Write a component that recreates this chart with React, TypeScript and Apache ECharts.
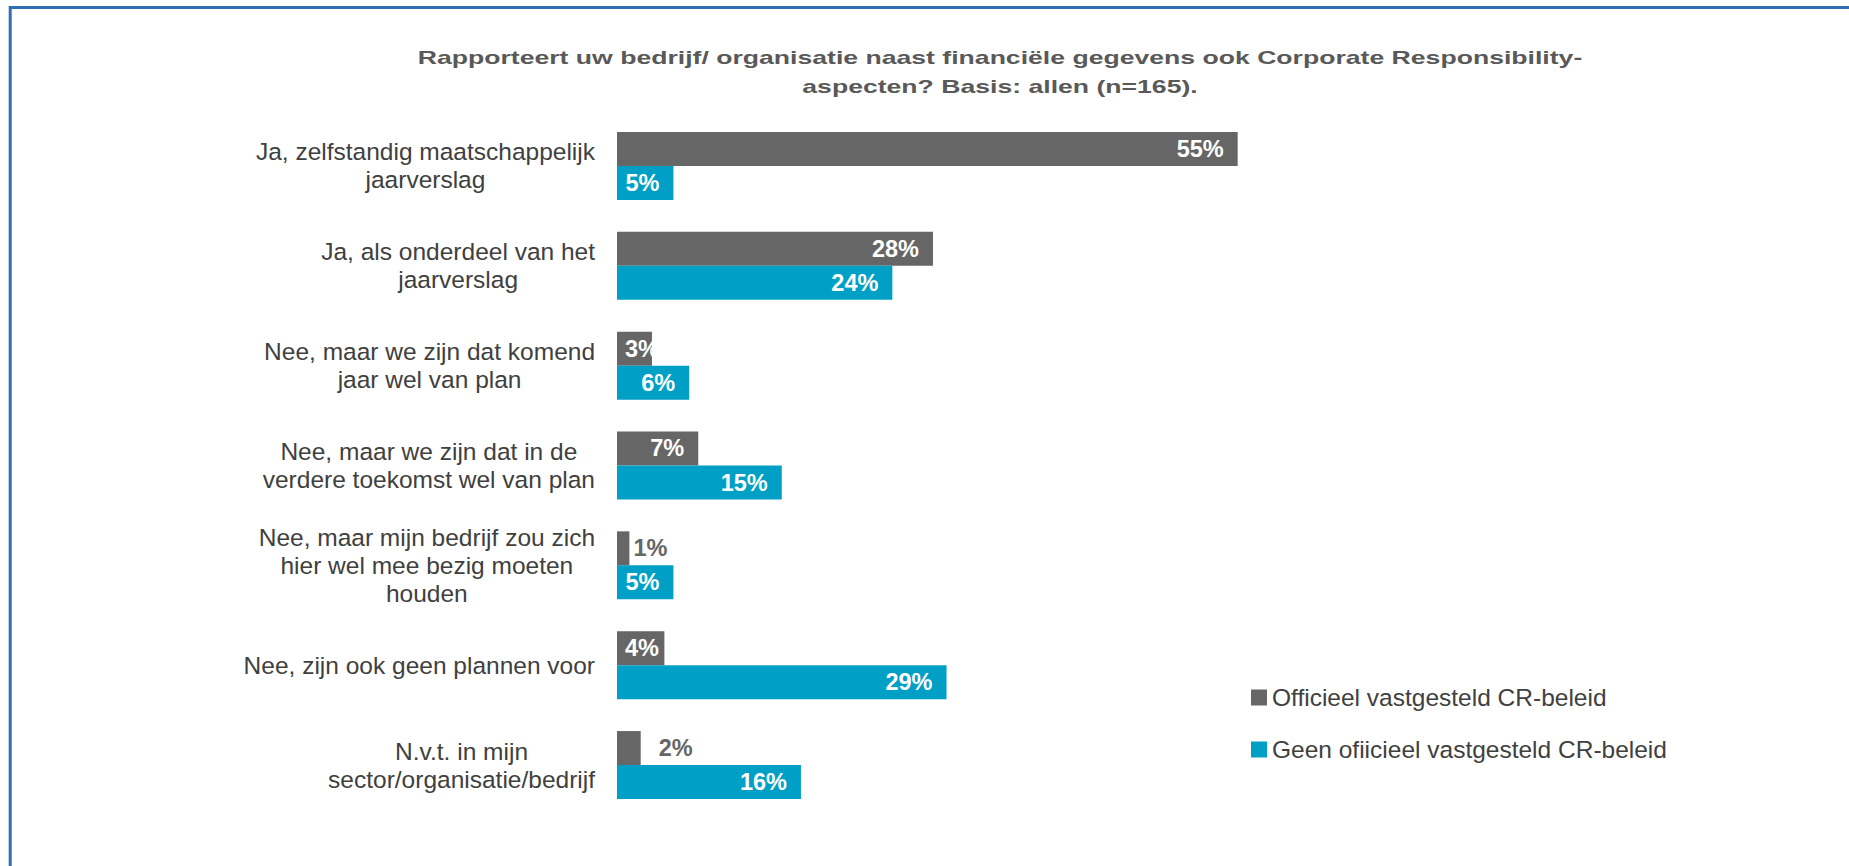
import React, { useEffect, useRef } from "react";
import * as echarts from "echarts";

const titleLines = [
  "Rapporteert uw bedrijf/ organisatie naast financiële gegevens ook Corporate Responsibility-",
  "aspecten? Basis: allen (n=165).",
];

const categories = [
  "Ja, zelfstandig maatschappelijk\njaarverslag",
  "Ja, als onderdeel van het\njaarverslag",
  "Nee, maar we zijn dat komend\njaar wel van plan",
  "Nee, maar we zijn dat in de\nverdere toekomst wel van plan",
  "Nee, maar mijn bedrijf zou zich\nhier wel mee bezig moeten\nhouden",
  "Nee, zijn ook geen plannen voor",
  "N.v.t. in mijn\nsector/organisatie/bedrijf",
];

const seriesNames = ["Officieel vastgesteld CR-beleid", "Geen ofiicieel vastgesteld CR-beleid"];
const officieel = [55, 28, 3.1, 7.2, 1.1, 4.2, 2.1];
const geenOfficieel = [5, 24.4, 6.4, 14.6, 5, 29.2, 16.3];

const GRAY = "#666666";
const BLUE = "#00A0C6";
const FONT = "'Liberation Sans', Arial, sans-serif";

function buildData(values: number[]) {
  return values.map((v) => {
    let label: any;
    if (v < 1.5) {
      label = { position: "right", distance: 4, color: GRAY };
    } else if (v < 2.5) {
      label = { position: "right", distance: 18, color: GRAY };
    } else if (v < 4.5) {
      label = { position: "insideLeft", distance: 8 };
    }
    return label ? { value: v, label } : { value: v };
  });
}

export default function App() {
  const ref = useRef<HTMLDivElement>(null);
  useEffect(() => {
    if (!ref.current) return;
    const chart = echarts.init(ref.current, undefined, { renderer: "svg" });
    const labelBase = {
      show: true,
      position: "insideRight",
      distance: 14,
      color: "#ffffff",
      fontFamily: FONT,
      fontWeight: "bold",
      fontSize: 23.5,
      formatter: (p: any) => `${Math.round(p.value)}%`,
    };
    chart.setOption({
      animation: false,
      backgroundColor: "#ffffff",
      textStyle: { fontFamily: FONT },
      graphic: [
        {
          type: "line",
          shape: { x1: 9, y1: 7.5, x2: 1849, y2: 7.5 },
          style: { stroke: "#2F6EB5", lineWidth: 3 },
        },
        {
          type: "line",
          shape: { x1: 10.2, y1: 6, x2: 10.2, y2: 866 },
          style: { stroke: "#2F6EB5", lineWidth: 3 },
        },
        {
          type: "text",
          x: 1000,
          y: 43,
          scaleX: 1.4,
          style: {
            text: titleLines.join("\n"),
            textAlign: "center",
            textVerticalAlign: "top",
            fontFamily: FONT,
            fontWeight: "bold",
            fontSize: 19,
            lineHeight: 29,
            fill: "#595959",
          },
        },
      ],
      legend: {
        orient: "vertical",
        left: 1251,
        top: 685,
        padding: 0,
        itemWidth: 16,
        itemHeight: 16,
        itemGap: 27,
        icon: "rect",
        textStyle: { fontFamily: FONT, fontSize: 24.5, color: "#404040", lineHeight: 20 },
        data: seriesNames,
      },
      grid: { left: 617, top: 116, bottom: 51, right: 103.5, containLabel: false },
      xAxis: {
        type: "value",
        min: 0,
        max: 100,
        show: false,
      },
      yAxis: {
        type: "category",
        inverse: true,
        data: categories,
        axisLine: { show: false },
        axisTick: { show: false },
        splitLine: { show: false },
        axisLabel: {
          margin: 22,
          formatter: (v: string) =>
            v
              .split("\n")
              .map((l) => `{c|${l}}`)
              .join("\n"),
          rich: {
            c: {
              align: "center",
              fontFamily: FONT,
              fontSize: 24.5,
              lineHeight: 28,
              color: "#404040",
            },
          },
        },
      },
      series: [
        {
          name: seriesNames[0],
          type: "bar",
          barGap: "0%",
          barCategoryGap: "31.9%",
          itemStyle: { color: GRAY },
          label: labelBase,
          data: buildData(officieel),
        },
        {
          name: seriesNames[1],
          type: "bar",
          barGap: "0%",
          barCategoryGap: "31.9%",
          itemStyle: { color: BLUE },
          label: labelBase,
          data: buildData(geenOfficieel),
        },
      ],
    });
    return () => chart.dispose();
  }, []);
  return (
    <div
      ref={ref}
      style={{ position: "fixed", left: 0, top: 0, width: 1849, height: 866, background: "#fff" }}
    />
  );
}
